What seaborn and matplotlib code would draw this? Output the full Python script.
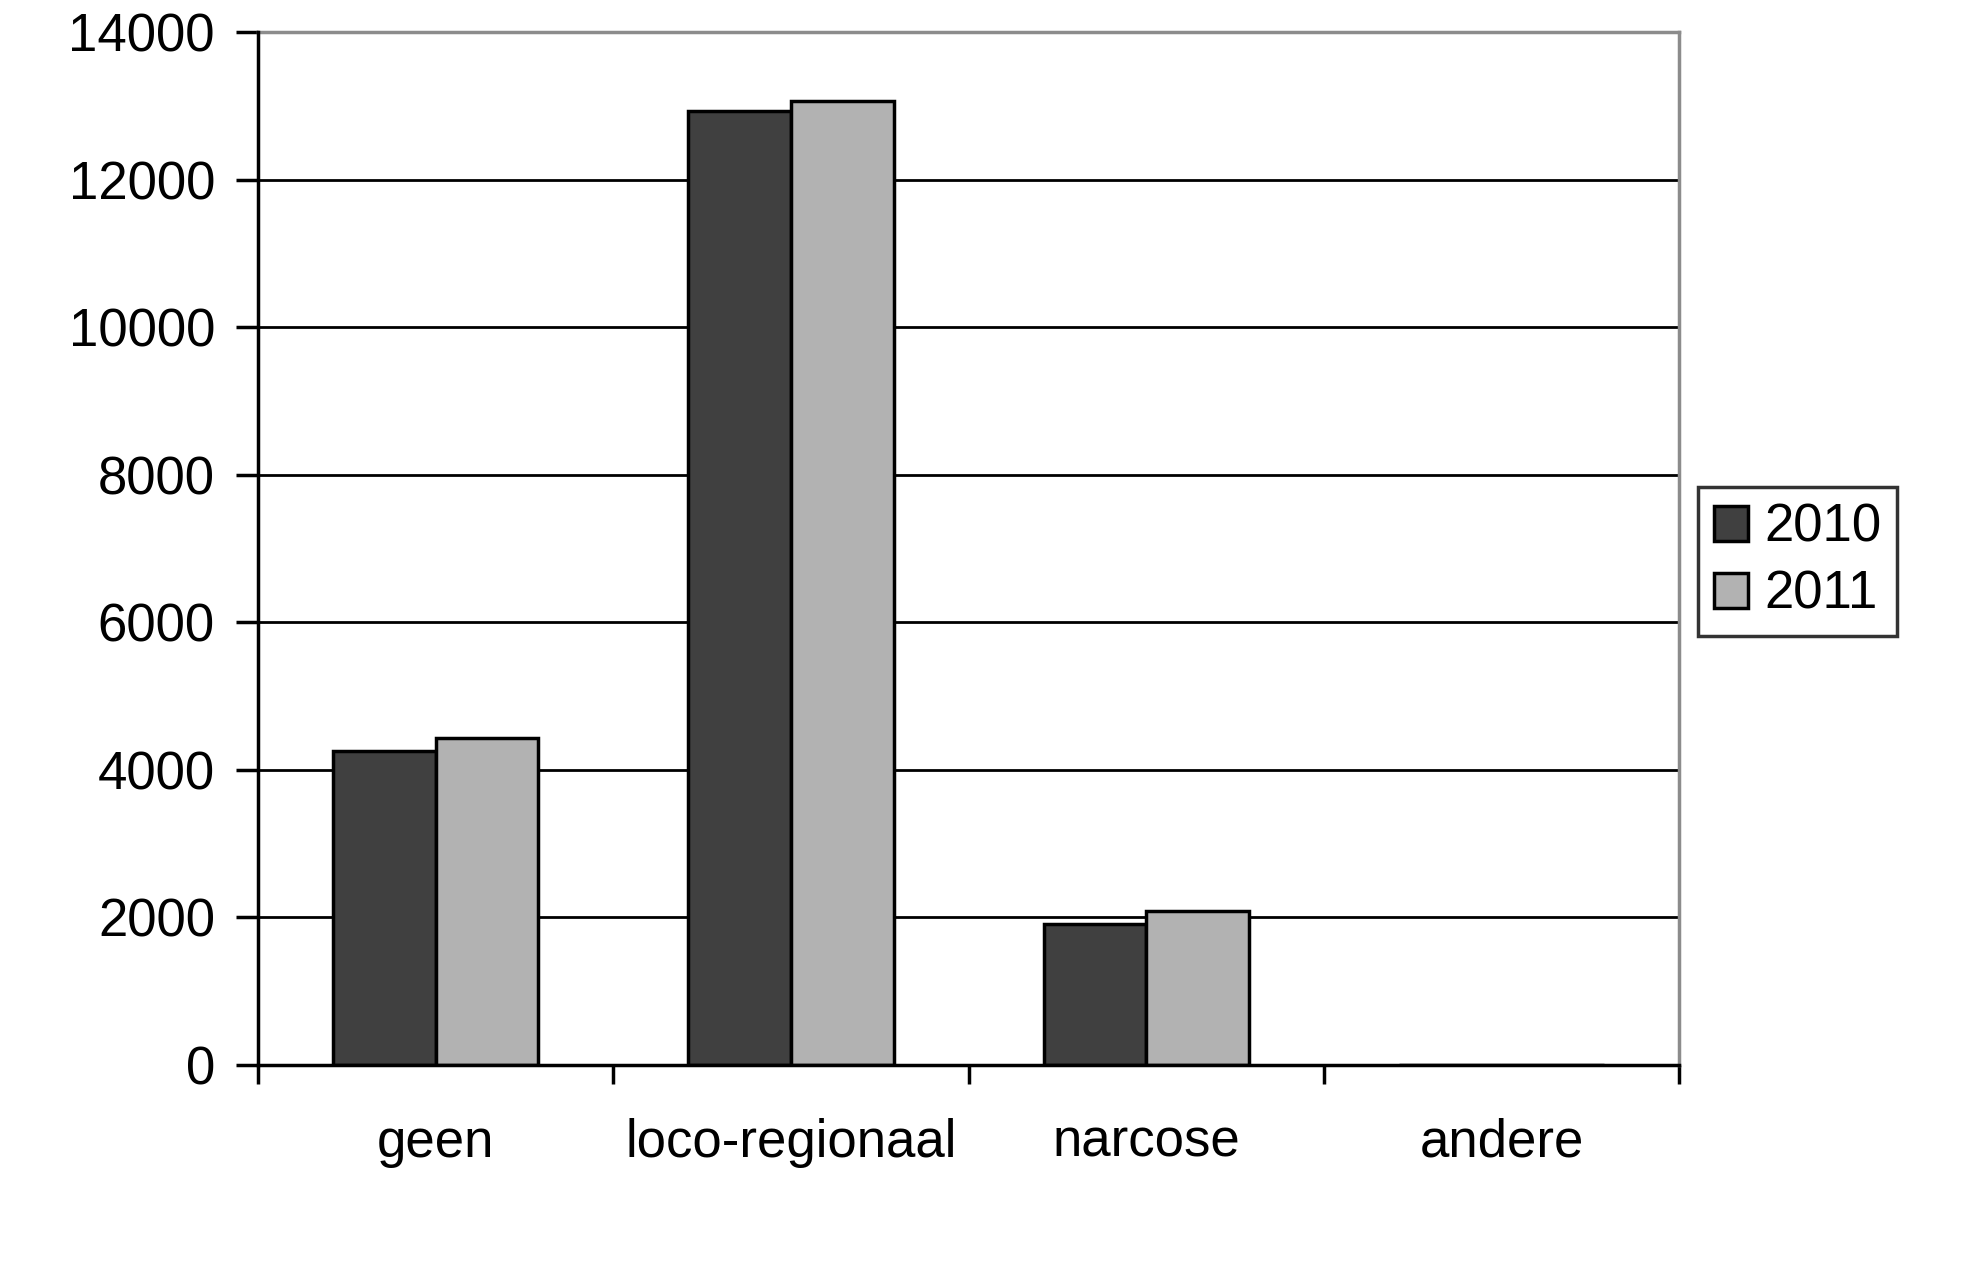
"""Anesthesie type per jaar - grouped bar chart."""

import matplotlib
matplotlib.use("Agg")
import matplotlib.pyplot as plt
import pandas as pd
import seaborn as sns
from matplotlib.ticker import FixedLocator

sns.set_theme(style="white")
plt.rcParams["font.family"] = ["Liberation Sans", "DejaVu Sans"]
plt.rcParams["text.color"] = "black"
plt.rcParams["xtick.color"] = "black"
plt.rcParams["ytick.color"] = "black"

categories = ["geen", "loco-regionaal", "narcose", "andere"]
years = ["2010", "2011"]
values_2010 = [4260, 12935, 1915, 0]
values_2011 = [4425, 13060, 2080, 0]
yticks = [0, 2000, 4000, 6000, 8000, 10000, 12000, 14000]

df = pd.DataFrame(
    {
        "Categorie": categories * 2,
        "Jaar": [years[0]] * len(categories) + [years[1]] * len(categories),
        "Aantal": values_2010 + values_2011,
    }
)

fig = plt.figure(figsize=(19.62, 12.66), dpi=100)
ax = fig.add_axes([0.1315, 0.1588, 0.7243, 0.8159])

sns.barplot(
    data=df,
    x="Categorie",
    y="Aantal",
    hue="Jaar",
    order=categories,
    hue_order=years,
    palette=["#404040", "#b2b2b2"],
    width=0.578,
    gap=0,
    edgecolor="black",
    linewidth=2.5,
    saturation=1,
    errorbar=None,
    ax=ax,
    zorder=3,
)

ax.set_ylim(0, 14000)
ax.set_xlim(-0.5, len(categories) - 0.5)
ax.set_yticks(yticks)
ax.set_yticklabels([str(v) for v in yticks], fontsize=38, color="black")
ax.yaxis.grid(True, color="black", linewidth=2)
ax.set_axisbelow(True)

ax.set_xticks(range(len(categories)))
ax.set_xticklabels(categories, fontsize=38, color="black")
ax.tick_params(axis="x", which="major", bottom=True, length=0, pad=38)
ax.xaxis.set_minor_locator(FixedLocator([i - 0.5 for i in range(len(categories) + 1)]))
ax.tick_params(axis="x", which="minor", bottom=True, length=14, width=2.5, color="black", direction="out")
ax.tick_params(axis="y", which="major", left=True, length=16, width=2.5, color="black", direction="out", pad=15)

ax.set_xlabel("")
ax.set_ylabel("")

for side in ["left", "bottom"]:
    ax.spines[side].set_color("black")
    ax.spines[side].set_linewidth(2.5)
    ax.spines[side].set_zorder(5)
for side in ["top", "right"]:
    ax.spines[side].set_color("#8c8c8c")
    ax.spines[side].set_linewidth(2.5)

handles, labels = ax.get_legend_handles_labels()
leg = ax.legend(
    handles,
    labels,
    loc="upper left",
    bbox_to_anchor=(0.8654, 0.6153),
    bbox_transform=fig.transFigure,
    borderaxespad=0,
    fontsize=38,
    frameon=True,
    fancybox=False,
    edgecolor="black",
    handlelength=0.65,
    handleheight=0.65,
    handletextpad=0.3,
    labelspacing=0.32,
    borderpad=0.3,
)
leg.get_frame().set_linewidth(2.5)

fig.savefig("out.png", dpi=100, facecolor="white")
